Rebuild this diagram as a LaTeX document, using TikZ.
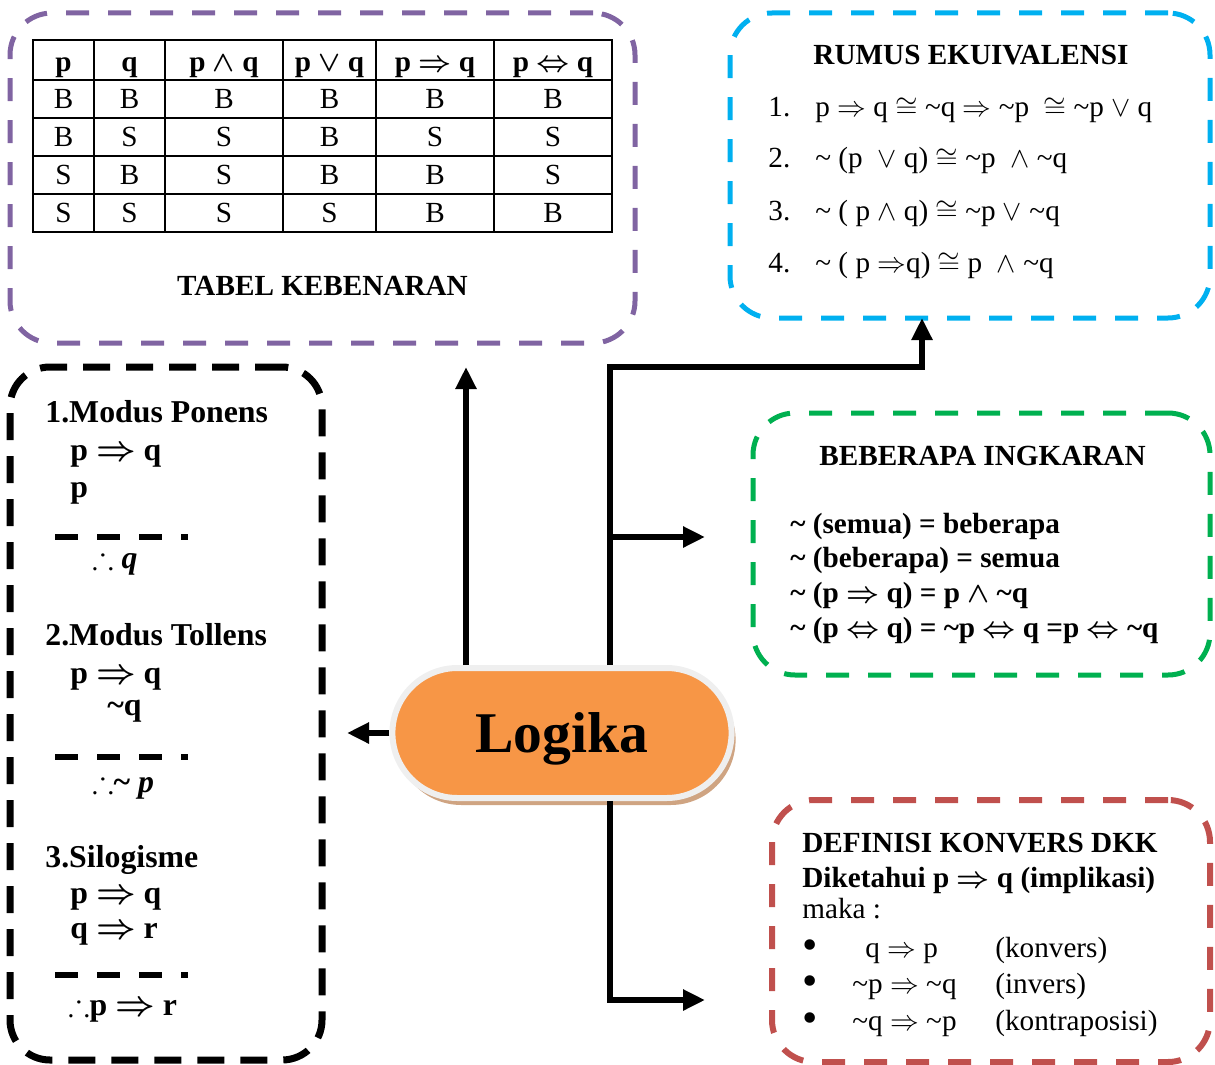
\documentclass[tikz,border=0pt]{standalone}
\usepackage{amssymb}
\usepackage{fontspec}
\setmainfont{Liberation Serif}
\usepackage{array}
\usepackage{tikz}
\usetikzlibrary{positioning}
\usetikzlibrary{arrows.meta}
\usetikzlibrary{shapes.misc}
\usetikzlibrary{shadows}
\definecolor{ungu}{HTML}{8064A2}
\definecolor{biru}{HTML}{00B0F0}
\definecolor{hijau}{HTML}{00B050}
\definecolor{merah}{HTML}{C0504D}
\definecolor{oranye}{HTML}{F79646}
\definecolor{abu}{HTML}{EFEFEF}
\definecolor{coklat}{HTML}{CFA482}
\newcommand{\tld}{\textasciitilde}
\newcommand{\strutA}{\rule[-4pt]{0pt}{19pt}}
\newcommand{\strutB}{\rule[-4.5pt]{0pt}{18pt}}
\newcommand{\titik}{\raisebox{-1pt}{\scalebox{1.5}{\textbullet}}}
\tikzset{
dbox/.style={ % dashed rounded frame round each group
draw, rounded corners=21pt, inner sep=0pt, outer sep=0pt,
line width=2.5pt, dash pattern=on 11.5pt off 9.5pt},
txt/.style={ % one line of text, placed at its baseline
anchor=base west, inner sep=0pt,
font=\fontsize{14.6}{17}\selectfont},
btxt/.style={txt, font=\fontsize{14.6}{17}\selectfont\bfseries\boldmath},
judul/.style={btxt, anchor=base}, % centred titles
inf/.style={txt, font=\fontsize{15.9}{18}\selectfont\bfseries\boldmath},
sep/.style={line width=3pt, dash pattern=on 11.5pt off 9.5pt},
pusat/.style={ % the orange pill in the middle
rounded rectangle, fill=oranye, draw=abu, line width=3pt,
minimum width=168pt, minimum height=65pt, text depth=0pt,
inner xsep=40pt,
font=\fontsize{28.8}{30}\selectfont\bfseries,
general shadow={fill=coklat, shadow xshift=2pt, shadow yshift=-3.5pt}},
link/.style={ % thick black connectors
draw, line width=3.25pt,
-{Triangle[length=11pt,width=10pt]}}}
\begin{document}
\begin{tikzpicture}[x=0.5pt,y=-0.5pt]
\useasboundingbox (0,0) rectangle (1215,1065);

\node[dbox, draw=ungu, minimum width=312.5pt, minimum height=165pt] (tabel) at (322.5,178) {};
\node[dbox, draw=biru, minimum width=240pt, minimum height=152.5pt] (rumus) at (970,165.5) {};
\node[dbox, draw=hijau, minimum width=228.5pt, minimum height=131pt] (ingkaran) at (981.5,544) {};
\node[dbox, draw=merah, line width=3pt, minimum width=219pt, minimum height=131pt] (definisi) at (991,931) {};
\node[dbox, draw=black, line width=3.5pt, dash pattern=on 13.5pt off 8pt, rounded corners=20pt, minimum width=156pt, minimum height=346.5pt] (inferensi) at (166,713.5) {};

\node[inner sep=0pt, font=\fontsize{14.6}{17}\selectfont] (tbl) at (322.5,136.5) {%
\setlength{\tabcolsep}{0pt}\setlength{\arrayrulewidth}{1pt}\renewcommand{\arraystretch}{0}%
\begin{tabular}{|w{c}{29.5pt}|w{c}{34.5pt}|w{c}{58pt}|w{c}{45.5pt}|w{c}{58pt}|w{c}{58pt}|}
\hline
\strutA\textbf{p} & \textbf{q} & {\bfseries\boldmath p $\wedge$ q} & {\bfseries\boldmath p $\vee$ q} & {\bfseries\boldmath p $\Rightarrow$ q} & {\bfseries\boldmath p $\Leftrightarrow$ q} \\ \hline
\strutB B & B & B & B & B & B \\ \hline
\strutB B & S & S & B & S & S \\ \hline
\strutB S & B & S & B & B & S \\ \hline
\strutB S & S & S & S & B & B \\ \hline
\end{tabular}};
\node[judul] (tabeljudul) at (322.5,295) {TABEL KEBENARAN};

\node[judul] (rumusjudul) at (971,65) {RUMUS EKUIVALENSI};
\node[txt] (rumus1) at (768,117) {\makebox[23.5pt][l]{1.}p $\Rightarrow$ q $\cong$ \tld q $\Rightarrow$ \tld p\ \ $\cong$ \tld p $\vee$ q};
\node[txt] (rumus2) at (768,168) {\makebox[23.5pt][l]{2.}\tld\ (p\ \ $\vee$ q) $\cong$ \tld p\ \ $\wedge$ \tld q};
\node[txt] (rumus3) at (768,220) {\makebox[23.5pt][l]{3.}\tld\ ( p $\wedge$ q) $\cong$ \tld p $\vee$ \tld q};
\node[txt] (rumus4) at (768,272) {\makebox[23.5pt][l]{4.}\tld\ ( p $\Rightarrow$q) $\cong$ p\ \ $\wedge$ \tld q};

\node[judul] (ingkarjudul) at (982.5,465) {BEBERAPA INGKARAN};
\node[btxt] (ingkar1) at (790,533) {\tld\ (semua) = beberapa};
\node[btxt] (ingkar2) at (790,567) {\tld\ (beberapa) = semua};
\node[btxt] (ingkar3) at (790,602) {\tld\ (p $\Rightarrow$ q) = p $\wedge$ \tld q};
\node[btxt] (ingkar4) at (790,637) {\tld\ (p $\Leftrightarrow$ q) = \tld p $\Leftrightarrow$ q =p $\Leftrightarrow$ \tld q};

\node[btxt] (defjudul) at (802,852) {DEFINISI KONVERS DKK};
\node[btxt] (diketahui) at (802,887) {Diketahui p $\Rightarrow$ q (implikasi)};
\node[txt] (maka) at (802,918) {maka :};
\node[txt] (konvers) at (802,957) {\makebox[31.5pt][l]{\titik}\makebox[65pt][l]{q $\Rightarrow$ p}(konvers)};
\node[txt] (invers) at (802,993) {\makebox[25pt][l]{\titik}\makebox[71.5pt][l]{\tld p $\Rightarrow$ \tld q}(invers)};
\node[txt] (kontra) at (802,1030) {\makebox[25pt][l]{\titik}\makebox[71.5pt][l]{\tld q $\Rightarrow$ \tld p}(kontraposisi)};

\node[inf] (mp) at (45,422) {1.Modus Ponens};
\node[inf] (mp1) at (70,460) {p $\Rightarrow$ q};
\node[inf] (mp2) at (70,497) {p};
\draw[sep] (55,537) -- (188,537);
\node[inf] (mpk) at (92,568) {$\therefore$ \textit{q}};
\node[inf] (mt) at (45,645) {2.Modus Tollens};
\node[inf] (mt1) at (70,683) {p $\Rightarrow$ q};
\node[inf] (mt2) at (107,715) {\tld q};
\draw[sep] (55,757) -- (188,757);
\node[inf] (mtk) at (92,792) {$\therefore$\tld\ \textit{p}};
\node[inf] (sl) at (45,867) {3.Silogisme};
\node[inf] (sl1) at (70,903) {p $\Rightarrow$ q};
\node[inf] (sl2) at (70,938) {q $\Rightarrow$ r};
\draw[sep] (55,975) -- (188,975);
\node[inf] (slk) at (68,1015) {$\therefore$p $\Rightarrow$ r};

\node[pusat] (logika) at (562,733) {Logika};

\coordinate (naik) at (466,0);
\coordinate (cabang) at (610,367);
\coordinate (masuk) at (922,0);
\coordinate (pisah) at (610,537);
\coordinate (siku) at (610,1000);
\draw[link, shorten >=12pt] (logika.north -| naik) -- (tabel.south -| naik);
\draw[link] (logika.north -| cabang) -- (cabang) -| (rumus.south -| masuk);
\draw[link, shorten >=24pt] (pisah) -- (pisah -| ingkaran.west);
\draw[link, shorten >=33.5pt] (logika.south -| siku) -- (siku) -- (siku -| definisi.west);
\draw[link, shorten >=12.5pt] (logika.west) -- (logika.west -| inferensi.east);
\end{tikzpicture}
\end{document}
